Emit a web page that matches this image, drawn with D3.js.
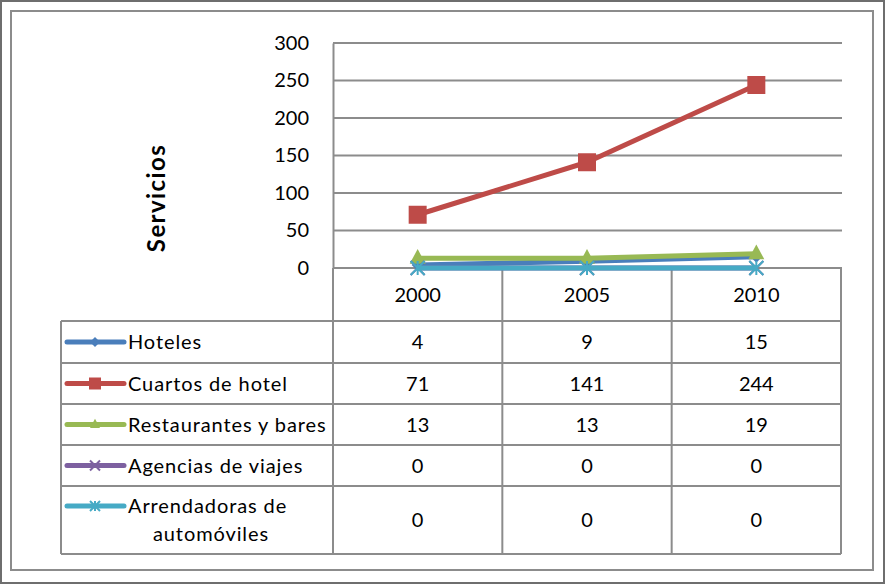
<!DOCTYPE html>
<html><head><meta charset="utf-8">
<script src="https://cdn.jsdelivr.net/npm/d3@7"></script>
<style>body{margin:0;background:#fff}svg{display:block}text{font-family:Lato,"Noto Sans",sans-serif;fill:#000}</style>
</head><body><div id="c"></div>
<script>
const years = ["2000","2005","2010"];
const seriesNames = ["Hoteles","Cuartos de hotel","Restaurantes y bares","Agencias de viajes","Arrendadoras de automóviles"];
const hoteles = [4,9,15];
const cuartos = [71,141,244];
const restaurantes = [13,13,19];
const agencias = [0,0,0];
const arrendadoras = [0,0,0];
const yTicks = [0,50,100,150,200,250,300];
const colors = ["#4A7EBB","#BE4B48","#98B954","#7D60A0","#46AAC5"];
const markers = ["diamond","square","triangle","x","asterisk"];
const values = [hoteles,cuartos,restaurantes,agencias,arrendadoras];

const W=885,H=584;
const svg=d3.select("#c").append("svg").attr("width",W).attr("height",H);
const grid="#8c8c8c";
const FS="20px", LS="0.9px";
// frames
svg.append("rect").attr("x",1).attr("y",1).attr("width",W-2).attr("height",H-2).attr("fill","none").attr("stroke","#6e6e6e").attr("stroke-width",2);
svg.append("rect").attr("x",11).attr("y",11).attr("width",862).attr("height",559).attr("fill","none").attr("stroke","#8c8c8c").attr("stroke-width",2);

const x=d3.scaleBand().domain(years).range([333,841]);
const y=d3.scaleLinear().domain([0,300]).range([268,43]);

// gridlines
svg.append("g").selectAll("line").data(yTicks).join("line")
 .attr("x1",333).attr("x2",842).attr("y1",d=>y(d)).attr("y2",d=>y(d))
 .attr("stroke",grid).attr("stroke-width",2);
// y axis
const ya=svg.append("g").attr("transform","translate(333,0)").call(d3.axisLeft(y).tickValues(yTicks).tickSize(0).tickPadding(24));
ya.select(".domain").attr("stroke",grid).attr("stroke-width",2);
ya.selectAll("text").style("font-family","Lato").style("font-size",FS).attr("fill","#000");

svg.append("text").attr("transform","translate(165,198) rotate(-90)").attr("text-anchor","middle")
 .style("font-size","24px").style("font-weight","bold").style("letter-spacing","1.4px").text("Servicios");

// table
const rowY=[268,321,363,404,445,486,554];
const tbl=svg.append("g");
const tl=61;
tbl.selectAll("line.h").data(rowY).join("line").attr("class","h")
 .attr("x1",(d,i)=>i<1?333:tl).attr("x2",841).attr("y1",d=>d).attr("y2",d=>d)
 .attr("stroke",grid).attr("stroke-width",2);
const cols=[333,x("2005"),x("2010"),841];
tbl.selectAll("line.v").data(cols).join("line").attr("class","v")
 .attr("x1",d=>d).attr("x2",d=>d).attr("y1",268).attr("y2",554).attr("stroke",grid).attr("stroke-width",2);
tbl.append("line").attr("x1",tl).attr("x2",tl).attr("y1",321).attr("y2",554).attr("stroke",grid).attr("stroke-width",2);

tbl.selectAll("text.yr").data(years).join("text").attr("class","yr")
 .attr("x",d=>x(d)+x.bandwidth()/2).attr("y",(rowY[0]+rowY[1])/2+7).attr("text-anchor","middle")
 .style("font-size",FS).text(d=>d);

function markerPath(type,s){
  if(type==="diamond") return `M0,${-s}L${s},0L0,${s}L${-s},0Z`;
  if(type==="square") return `M${-s},${-s}H${s}V${s}H${-s}Z`;
  if(type==="triangle") return `M0,${-s*1.15}L${s},${s*0.7}L${-s},${s*0.7}Z`;
  if(type==="x") return `M${-s},${-s}L${s},${s}M${s},${-s}L${-s},${s}`;
  if(type==="asterisk") return `M${-s},${-s}L${s},${s}M${s},${-s}L${-s},${s}M0,${-s}V${s}`;
}
function drawMarker(g,type,col,cx,cy,s){
  const filled = type!=="x" && type!=="asterisk";
  g.append("path").attr("d",markerPath(type,s)).attr("transform",`translate(${cx},${cy})`)
   .attr("fill",filled?col:"none").attr("stroke",col).attr("stroke-width",filled?0:2);
}

seriesNames.forEach((nm,i)=>{
  const top=rowY[i+1], bot=rowY[i+2], mid=(top+bot)/2;
  const col=colors[i];
  const ly = i===4 ? top+20 : mid;
  tbl.append("line").attr("x1",67).attr("x2",124).attr("y1",ly).attr("y2",ly).attr("stroke",col).attr("stroke-width",5).attr("stroke-linecap","round");
  drawMarker(tbl,markers[i],col,95,ly,i===1?6:5);
  if(i===4){
    tbl.append("text").attr("x",128).attr("y",top+27).style("font-size",FS).style("letter-spacing",LS).text("Arrendadoras de");
    tbl.append("text").attr("x",211).attr("y",top+55).attr("text-anchor","middle").style("font-size",FS).style("letter-spacing",LS).text("automóviles");
  } else {
    tbl.append("text").attr("x",128).attr("y",mid+7).style("font-size",FS).style("letter-spacing",LS).text(nm);
  }
  tbl.selectAll(null).data(values[i]).join("text")
   .attr("x",(d,j)=>x(years[j])+x.bandwidth()/2).attr("y",mid+7).attr("text-anchor","middle")
   .style("font-size",FS).text(d=>d);
});

const line=d3.line().x((d,j)=>x(years[j])+x.bandwidth()/2).y(d=>y(d));
const sizes=[6,9,8,7,7];
values.forEach((vals,i)=>{
  const g=svg.append("g");
  g.append("path").attr("d",line(vals)).attr("fill","none").attr("stroke",colors[i]).attr("stroke-width",5).attr("stroke-linejoin","round");
  vals.forEach((v,j)=>drawMarker(g,markers[i],colors[i],x(years[j])+x.bandwidth()/2,y(v),sizes[i]));
});
</script></body></html>
